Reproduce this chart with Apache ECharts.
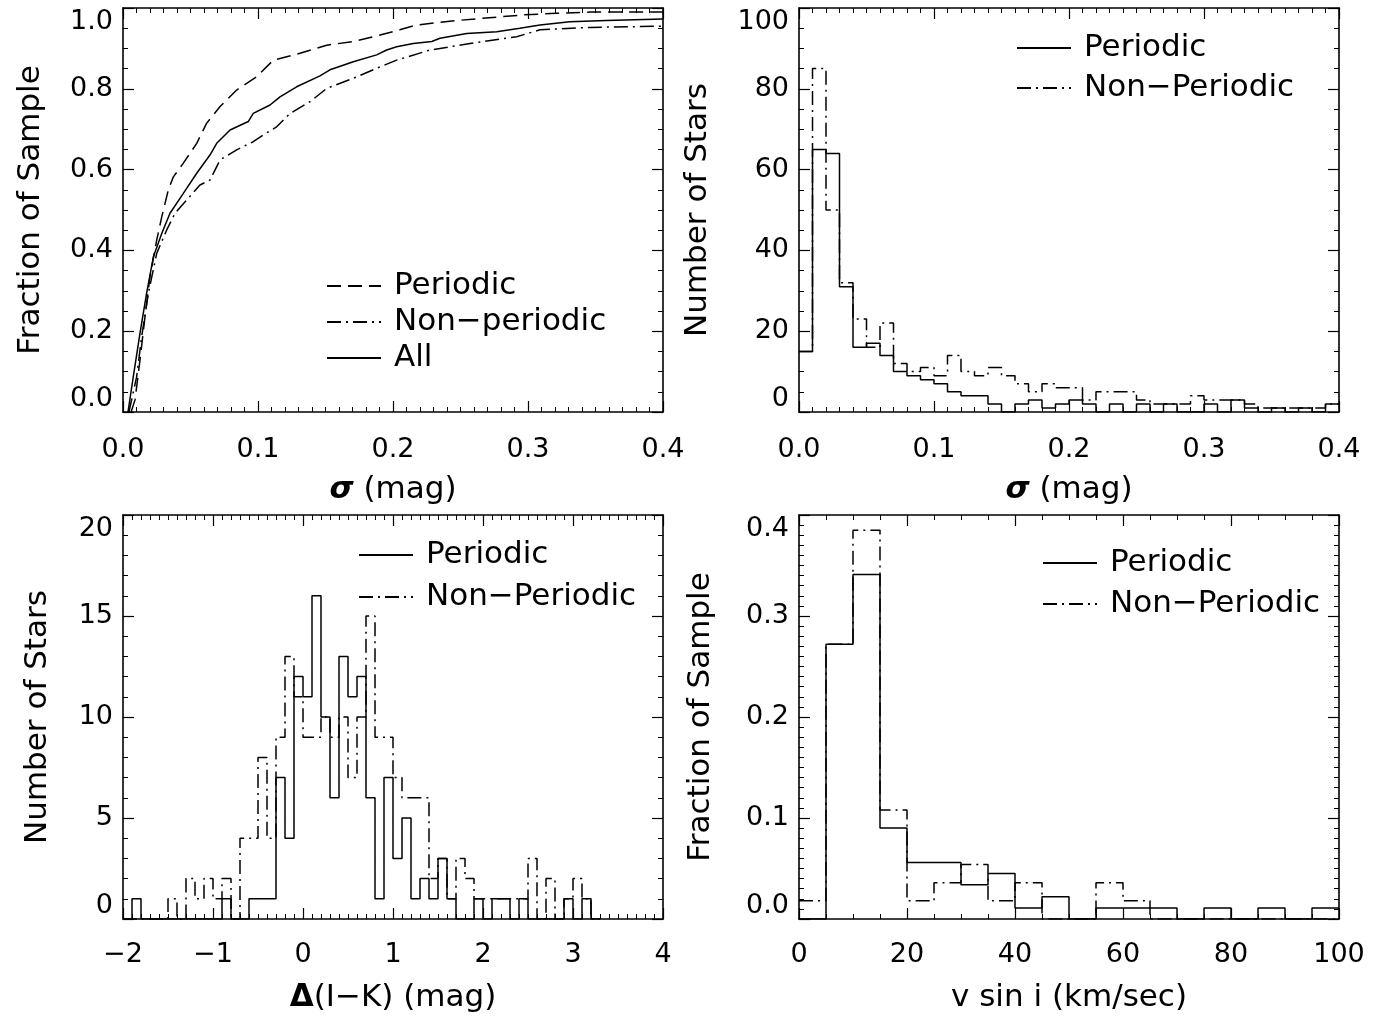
<!DOCTYPE html>
<html><head><meta charset="utf-8">
<script src="https://cdn.jsdelivr.net/npm/echarts@6/dist/echarts.min.js"></script>
<style>html,body{margin:0;padding:0;background:#fff}#c{width:1393px;height:1016px}</style>
</head><body><div id="c"></div>
<script>
// ---------- Panel 1: cumulative distributions of sigma ----------
const cdfAllX = [0.0037,0.0076,0.0126,0.0175,0.0225,0.0287,0.0348,0.0447,0.0546,0.0644,0.0694,0.0793,0.0928,0.0965,0.1089,0.1163,0.1286,0.1459,0.1533,0.1706,0.1879,0.1953,0.2027,0.215,0.2287,0.2348,0.2546,0.2768,0.294,0.3089,0.331,0.358,0.4];
const cdfAllY = [0,0.087,0.195,0.294,0.384,0.442,0.492,0.541,0.591,0.636,0.665,0.698,0.719,0.739,0.760,0.780,0.805,0.832,0.847,0.867,0.884,0.896,0.904,0.912,0.917,0.925,0.937,0.941,0.950,0.958,0.966,0.969,0.973];
const cdfPerX = [0.006,0.0089,0.0126,0.0163,0.02,0.025,0.0287,0.0336,0.0373,0.0447,0.0546,0.062,0.0719,0.0842,0.099,0.1114,0.1311,0.1509,0.1706,0.1904,0.205,0.2175,0.2472,0.2965,0.3212,0.346,0.4];
const cdfPerY = [0,0.03,0.129,0.236,0.335,0.426,0.483,0.55,0.582,0.616,0.665,0.715,0.756,0.797,0.830,0.871,0.888,0.908,0.917,0.933,0.946,0.958,0.969,0.983,0.987,0.99,0.99];
const cdfNonX = [0.0044,0.0101,0.0138,0.0188,0.025,0.0323,0.0385,0.0472,0.057,0.0644,0.0719,0.0842,0.0965,0.104,0.1138,0.1237,0.1385,0.1509,0.1706,0.188,0.2027,0.2274,0.257,0.2916,0.3089,0.346,0.4];
const cdfNonY = [0,0.087,0.186,0.294,0.393,0.45,0.492,0.525,0.562,0.574,0.624,0.649,0.669,0.686,0.706,0.739,0.768,0.801,0.826,0.851,0.871,0.896,0.912,0.929,0.946,0.952,0.955];

// ---------- Panel 2: histogram of sigma (bin edges, counts) ----------
const sigEdges = [0,0.01,0.02,0.03,0.04,0.05,0.06,0.07,0.08,0.09,0.10,0.11,0.12,0.13,0.14,0.15,0.16,0.17,0.18,0.19,0.20,0.21,0.22,0.23,0.24,0.25,0.26,0.27,0.28,0.29,0.30,0.31,0.32,0.33,0.34,0.35,0.36,0.37,0.38,0.39,0.40];
const sigPer = [15,65,64,31,16,17,14,10,9,8,7,5,4,4,2,0,2,3,1,2,3,2,0,2,0,2,0,2,0,0,2,0,3,1,0,1,0,1,0,2];
const sigNon = [15,85,50,32,23,16,22,12,10,11,9,14,10,9,11,9,7,5,7,6,6,3,5,5,5,3,2,2,2,4,3,3,3,2,1,1,1,1,1,2];

// ---------- Panel 3: histogram of Delta(I-K) ----------
const dikEdges = [-2.0,-1.9,-1.8,-1.7,-1.6,-1.5,-1.4,-1.3,-1.2,-1.1,-1.0,-0.9,-0.8,-0.7,-0.6,-0.5,-0.4,-0.3,-0.2,-0.1,0.0,0.1,0.2,0.3,0.4,0.5,0.6,0.7,0.8,0.9,1.0,1.1,1.2,1.3,1.4,1.5,1.6,1.7,1.8,1.9,2.0,2.1,2.2,2.3,2.4,2.5,2.6,2.7,2.8,2.9,3.0,3.1,3.2,3.3];
const dikPer = [0,1,0,0,0,0,0,0,0,0,0,1,0,0,1,1,1,7,4,12,11,16,10,6,13,11,12,6,1,7,3,5,1,2,1,3,1,0,0,1,0,1,1,0,1,0,0,0,0,1,0,1,0];
const dikNon = [0,0,0,0,0,1,0,2,1,2,1,2,0,4,4,8,4,9,13,11,9,9,10,9,10,7,10,15,9,9,7,6,6,6,2,3,1,3,2,1,1,1,1,1,1,3,0,2,0,1,2,1,0];

// ---------- Panel 4: histogram of v sin i (fractions) ----------
const vsiEdges = [0,5,10,15,20,25,30,35,40,45,50,55,60,65,70,75,80,85,90,95,100];
const vsiPer = [0,0.272,0.341,0.090,0.056,0.056,0.034,0.045,0.011,0.022,0,0.011,0.011,0.011,0,0.011,0,0.011,0,0.011];
const vsiNon = [0.018,0.272,0.385,0.108,0.018,0.036,0.054,0.018,0.036,0,0,0.036,0.018,0,0,0,0,0,0,0];

// ---------- text ----------
const legendText = {
  p1per:'Periodic', p1non:'Non\u2212periodic', p1all:'All',
  p2per:'Periodic', p2non:'Non\u2212Periodic',
  p3per:'Periodic', p3non:'Non\u2212Periodic',
  p4per:'Periodic', p4non:'Non\u2212Periodic'
};

const FONT = 'DejaVu Sans';
const TXT = 31, TICK = 27;
const DASH = [14, 7];
const DASHDOT = [14, 5, 2, 5];

const grids = [
  {left:123, top:8, width:540, height:404},
  {left:799, top:8, width:540, height:404},
  {left:123, top:515, width:540, height:404},
  {left:799, top:515, width:540, height:404}
];

function zip(xs, ys){ return xs.map((x,i)=>[x, ys[i]]); }
function steps(edges, vals){
  const d = vals.map((v,i)=>[edges[i], v]);
  d.push([edges[vals.length], vals[vals.length-1]]);
  return d;
}
const minus = s => String(s).replace('-', '\u2212');

function axis(o){
  return {
    type:'value', gridIndex:o.g, position:o.pos, min:o.min, max:o.max, interval:o.interval,
    axisLine:{show:true, onZero:false, lineStyle:{color:'#000', width:1.6}},
    axisTick:{show:true, inside:true, length:11, lineStyle:{color:'#000', width:1.2}},
    minorTick:{show:true, splitNumber:o.split, length:5, lineStyle:{color:'#000', width:1}},
    splitLine:{show:false}, minorSplitLine:{show:false},
    axisLabel: o.fmt ? Object.assign({show:true, formatter:o.fmt, color:'#000', fontSize:TICK, fontFamily:FONT, margin:o.margin, showMinLabel:true, showMaxLabel:true}, o.lab||{}) : {show:false},
    name:o.name||'', nameLocation:'middle', nameGap:o.nameGap||0, nameRotate:o.rot||0,
    nameTextStyle:{color:'#000', fontSize:TXT, fontFamily:FONT, rich:{b:{fontSize:TXT, fontFamily:FONT, fontWeight:'bold', fontStyle:'italic', color:'#000'}, d:{fontSize:TXT, fontFamily:FONT, fontWeight:'bold', color:'#000'}}}
  };
}
const yLab = {verticalAlignMinLabel:'bottom', verticalAlignMaxLabel:'top'};
const f1 = v => v.toFixed(1);
const fi = v => minus(Math.round(v));

const xAxes = [
  axis({g:0,pos:'bottom',min:0,max:0.4,interval:0.1,split:10,fmt:f1,margin:24,name:'{b|\u03c3} (mag)',nameGap:62}),
  axis({g:0,pos:'top',min:0,max:0.4,interval:0.1,split:10}),
  axis({g:1,pos:'bottom',min:0,max:0.4,interval:0.1,split:10,fmt:f1,margin:24,name:'{b|\u03c3} (mag)',nameGap:62}),
  axis({g:1,pos:'top',min:0,max:0.4,interval:0.1,split:10}),
  axis({g:2,pos:'bottom',min:-2,max:4,interval:1,split:10,fmt:fi,margin:22,name:'{d|\u0394}(I\u2212K) (mag)',nameGap:63}),
  axis({g:2,pos:'top',min:-2,max:4,interval:1,split:10}),
  axis({g:3,pos:'bottom',min:0,max:100,interval:20,split:4,fmt:fi,margin:22,name:'v sin i (km/sec)',nameGap:63}),
  axis({g:3,pos:'top',min:0,max:100,interval:20,split:4})
];
const yAxes = [
  axis({g:0,pos:'left',min:0,max:1,interval:0.2,split:4,fmt:f1,margin:10,lab:yLab,name:'Fraction of Sample',nameGap:77,rot:90}),
  axis({g:0,pos:'right',min:0,max:1,interval:0.2,split:4}),
  axis({g:1,pos:'left',min:0,max:100,interval:20,split:4,fmt:fi,margin:10,lab:yLab,name:'Number of Stars',nameGap:86,rot:90}),
  axis({g:1,pos:'right',min:0,max:100,interval:20,split:4}),
  axis({g:2,pos:'left',min:0,max:20,interval:5,split:5,fmt:fi,margin:10,lab:yLab,name:'Number of Stars',nameGap:70,rot:90}),
  axis({g:2,pos:'right',min:0,max:20,interval:5,split:5}),
  axis({g:3,pos:'left',min:0,max:0.4,interval:0.1,split:10,fmt:f1,margin:10,lab:yLab,name:'Fraction of Sample',nameGap:83,rot:90}),
  axis({g:3,pos:'right',min:0,max:0.4,interval:0.1,split:10})
];

function line(name, g, data, type, step){
  return {
    name, type:'line', xAxisIndex:2*g, yAxisIndex:2*g, data, step:step||false,
    symbol:'none', showSymbol:false, clip:true, animation:false, silent:true,
    lineStyle:{color:'#000', width:1.5, type:type}, itemStyle:{color:'#000'}
  };
}

const series = [
  line('p1per',0,zip(cdfPerX,cdfPerY),DASH),
  line('p1non',0,zip(cdfNonX,cdfNonY),DASHDOT),
  line('p1all',0,zip(cdfAllX,cdfAllY),'solid'),
  line('p2non',1,steps(sigEdges,sigNon),DASHDOT,'end'),
  line('p2per',1,steps(sigEdges,sigPer),'solid','end'),
  line('p3non',2,steps(dikEdges,dikNon),DASHDOT,'end'),
  line('p3per',2,steps(dikEdges,dikPer),'solid','end'),
  line('p4non',3,steps(vsiEdges,vsiNon),DASHDOT,'end'),
  line('p4per',3,steps(vsiEdges,vsiPer),'solid','end')
];

function legend(names, left, top, gap){
  return {
    data:names, orient:'vertical', left, top, itemGap:gap, itemWidth:54, itemHeight:14,
    selectedMode:false, padding:0,
    itemStyle:{opacity:0},
    formatter: n => legendText[n],
    textStyle:{color:'#000', fontSize:TXT, fontFamily:FONT, lineHeight:32, padding:[0,0,0,8]}
  };
}

const chart = echarts.init(document.getElementById('c'), null, {renderer:'canvas'});
chart.setOption({
  backgroundColor:'#fff',
  animation:false,
  grid:grids,
  xAxis:xAxes,
  yAxis:yAxes,
  legend:[
    legend(['p1per','p1non','p1all'], 326, 270, 4),
    legend(['p2per','p2non'], 1016, 32, 8),
    legend(['p3per','p3non'], 358, 539, 10),
    legend(['p4per','p4non'], 1042, 547, 9)
  ],
  series
});
</script></body></html>
